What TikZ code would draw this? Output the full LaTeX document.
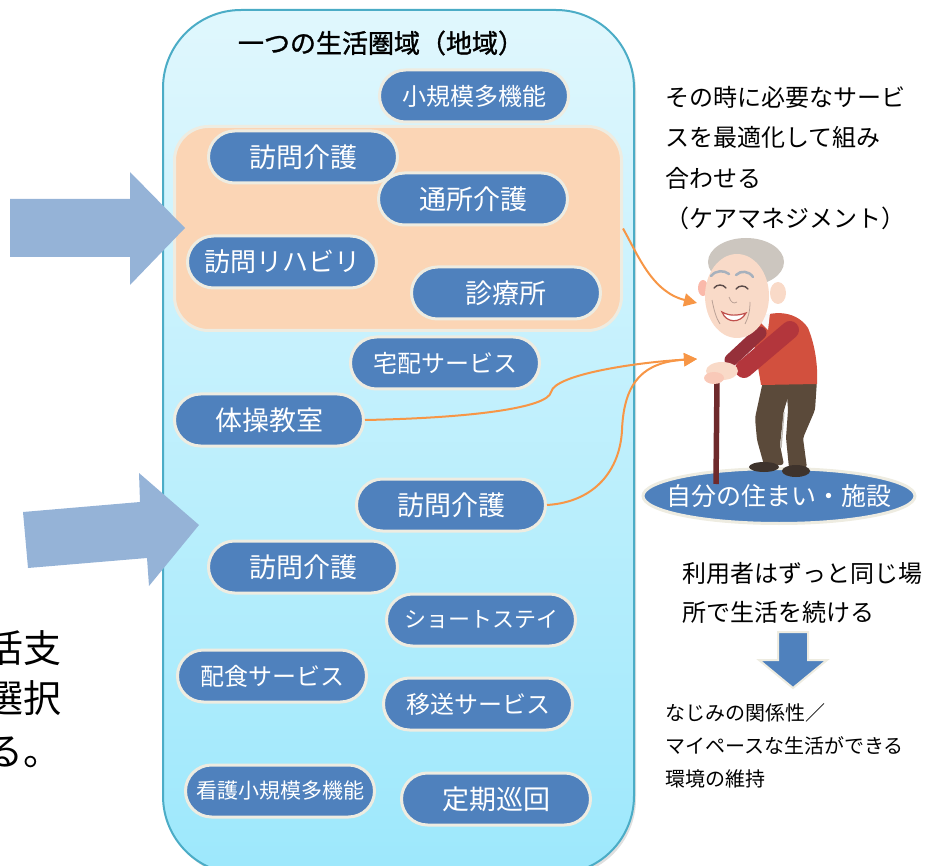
\documentclass[tikz,border=0pt]{standalone}
\usepackage{fontspec}
\newfontfamily\jp{Noto Sans CJK JP}
\newfontfamily\jpbold[FakeBold=1.2]{Noto Sans CJK JP}
\usetikzlibrary{arrows.meta,shadows,shapes.geometric}
\newcommand\jpsz[1]{\jp\fontsize{#1pt}{#1pt}\selectfont}

\definecolor{pillblue}{HTML}{4F81BD}
\definecolor{beige}{HTML}{EEECE1}
\definecolor{paneltop}{HTML}{E0F7FD}
\definecolor{panelbot}{HTML}{9DE8FC}
\definecolor{panelrim}{HTML}{4BACC6}
\definecolor{peach}{HTML}{FBD5B5}
\definecolor{bigarrow}{HTML}{95B3D7}
\definecolor{connorange}{HTML}{F79646}
\definecolor{hair}{HTML}{CCC6BF}
\definecolor{skin}{HTML}{F9DAC8}
\definecolor{sweater}{HTML}{D2503E}
\definecolor{armred}{HTML}{B3363C}
\definecolor{armdark}{HTML}{96303A}
\definecolor{pants}{HTML}{5B4A3A}
\definecolor{shoe}{HTML}{3E332C}
\definecolor{cane}{HTML}{6E2A2C}
\definecolor{brow}{HTML}{A7B1BD}
\definecolor{inkline}{HTML}{5A4A48}
\definecolor{mouthred}{HTML}{C0504D}

\tikzset{
  pill/.style={draw=beige, line width=3pt, fill=pillblue, rounded corners=26pt,
    minimum width=189pt, minimum height=52pt, inner sep=0pt, text=white},
  conn/.style={draw=connorange, line width=2pt,
    -{Triangle[length=13pt,width=13pt]}},
  note/.style={anchor=west, inner sep=0pt, text=black},
}

\begin{document}
\begin{tikzpicture}[x=1pt,y=-1pt]
\useasboundingbox (0,0) rectangle (929,866);
\clip (0,0) rectangle (929,866);

% the living area panel
\path[drop shadow={opacity=0.25, shadow xshift=2pt, shadow yshift=-3pt},
  top color=paneltop, bottom color=panelbot, draw=panelrim, line width=2pt,
  rounded corners=78pt] (163,10) rectangle (634,874);

\node[font=\jpbold\fontsize{26pt}{26pt}\selectfont, inner sep=0pt] (title) at (381,43) {一つの生活圏域（地域）};

% care team block
\node[draw=beige, line width=3pt, fill=peach, rounded corners=34pt,
  minimum width=447pt, minimum height=204pt, inner sep=0pt] (team) at (398,228.5) {};

% services
\node[pill, font=\jpsz{24}] (shokibo)  at (474,96)  {小規模多機能};
\node[pill, font=\jpsz{27}] (homon1)   at (303,157) {訪問介護};
\node[pill, font=\jpsz{27}] (tsusho)   at (473,199) {通所介護};
\node[pill, font=\jpsz{26}] (reha)     at (282,262) {訪問リハビリ};
\node[pill, font=\jpsz{27}] (shinryo)  at (506,293) {診療所};
\node[pill, font=\jpsz{24}] (takuhai)  at (445,363) {宅配サービス};
\node[pill, font=\jpsz{27}] (taiso)    at (269,420) {体操教室};
\node[pill, font=\jpsz{27}] (homon2)   at (451,505) {訪問介護};
\node[pill, font=\jpsz{27}] (homon3)   at (303,567) {訪問介護};
\node[pill, font=\jpsz{22}] (short)    at (481,620) {ショートステイ};
\node[pill, font=\jpsz{24}] (haishoku) at (272,676) {配食サービス};
\node[pill, font=\jpsz{24}] (isou)     at (478,704) {移送サービス};
\node[pill, font=\jpsz{21}] (kango)    at (280,791) {看護小規模多機能};
\node[pill, font=\jpsz{27}] (junkai)   at (496,799) {定期巡回};

% block arrows entering the area
\fill[bigarrow] (10,199) -- (130,199) -- (130,172) -- (185,228) -- (130,285)
  -- (130,257) -- (10,257) -- cycle;
\fill[bigarrow] (23,512) -- (140,502) -- (139,473) -- (199,525) -- (149,586)
  -- (147,558) -- (28,568) -- cycle;

% home of the user
\node[ellipse, draw=beige, line width=3pt, fill=pillblue, minimum width=272pt,
  minimum height=55pt, inner xsep=-26pt, inner ysep=0pt, text=white,
  font=\jpsz{25}] (home) at (779,496) {自分の住まい・施設};

% elderly man with a cane
\draw[cane, line width=5.5pt] (717,380) -- (716,484);
\fill[pants, rounded corners=3pt] (763,381) -- (792,385) -- (784,410) -- (780,445)
  -- (784,465) -- (764,465) -- (757,440) -- (755,418) -- cycle;
\fill[pants, rounded corners=3pt] (786,381) -- (817,380) -- (815,410) -- (803,438)
  -- (807,468) -- (789,468) -- (786,438) -- (788,410) -- cycle;
\draw[pants!40!white, line width=1.3pt] (784,412) -- (781,448);
\fill[shoe] (764,467) ellipse [x radius=15pt, y radius=5pt];
\fill[shoe] (796,471) ellipse [x radius=14pt, y radius=6pt];
\fill[sweater] (752,323) .. controls (765,310) and (795,308) .. (808,328)
  .. controls (815,345) and (818,365) .. (817,384) -- (761,385)
  .. controls (758,365) and (753,345) .. cycle;
\draw[armdark, line width=13pt, line cap=round] (760,333) -- (731,360);
\draw[armred, line width=18pt, line cap=round] (790,330) -- (744,369);
\fill[white!90!hair] (756,318) -- (770,313) -- (768,330) -- cycle;
\fill[hair] (746,262) ellipse [x radius=38pt, y radius=24pt];
\fill[skin] (778,293) ellipse [x radius=8pt, y radius=11pt];
\fill[skin!85!red] (703,288) ellipse [x radius=5pt, y radius=8pt];
\fill[skin] (737,296) ellipse [x radius=32pt, y radius=42pt];
\draw[brow, line width=2.5pt, line cap=round]
  (711,276) .. controls (716,270) and (724,270) .. (729,274)
  (736,275) .. controls (741,270) and (749,271) .. (753,277);
\draw[inkline, line width=1.4pt, line cap=round]
  (714,288) .. controls (717,284) and (723,284) .. (726,288)
  (736,289) .. controls (739,285) and (745,285) .. (748,289);
\draw[skin!60!inkline, line width=0.8pt]
  (729,297) .. controls (731,303) and (734,304) .. (737,302)
  (712,300) .. controls (714,310) and (716,318) .. (720,324)
  (750,302) .. controls (750,312) and (748,318) .. (745,324);
\filldraw[fill=white, draw=mouthred, line width=1.2pt]
  (722,312) .. controls (726,323) and (740,324) .. (746,313)
  .. controls (737,316) and (729,316) .. cycle;
\fill[skin] (722,371) ellipse [x radius=16pt, y radius=9pt];
\fill[skin!92!red] (714,378) ellipse [x radius=10pt, y radius=6pt];

% connectors to the user
\coordinate (face)  at (697,303);
\coordinate (hands) at (697,359);
\draw[conn] (team.east) .. controls (638,255) and (652,292) .. (face);
\draw[conn] (taiso.east) .. controls (470,418) and (548,408) .. (551,392)
  .. controls (555,374) and (640,362) .. (hands);
\draw[conn] (homon2.east) .. controls (595,502) and (620,470) .. (622,430)
  .. controls (624,380) and (645,362) .. (hands);

% care management note
\node[note, font=\jpsz{24}] (cm1) at (665,97)  {その時に必要なサービ};
\node[note, font=\jpsz{24}] (cm2) at (665,137) {スを最適化して組み};
\node[note, font=\jpsz{24}] (cm3) at (665,178) {合わせる};
\node[note, font=\jpsz{24}] (cm4) at (665,218) {（ケアマネジメント）};

% same place note and result
\node[note, font=\jpsz{24}] (sp1) at (682,573) {利用者はずっと同じ場};
\node[note, font=\jpsz{24}] (sp2) at (682,612) {所で生活を続ける};
\filldraw[fill=pillblue, draw=beige, line width=2pt] (778,632) -- (808,632) -- (808,660)
  -- (827,660) -- (793,688) -- (759,660) -- (778,660) -- cycle;
\node[note, font=\jpsz{20}] (rs1) at (665,713) {なじみの関係性／};
\node[note, font=\jpsz{20}] (rs2) at (665,746) {マイペースな生活ができる};
\node[note, font=\jpsz{20}] (rs3) at (665,779) {環境の維持};

% text running in from the left edge
\node[anchor=east, inner sep=0pt, font=\jpsz{38}] (lt1) at (62,648) {活支};
\node[anchor=east, inner sep=0pt, font=\jpsz{38}] (lt2) at (62,698) {選択};
\node[anchor=east, inner sep=0pt, font=\jpsz{38}] (lt3) at (62,752) {る。};
\end{tikzpicture}
\end{document}
